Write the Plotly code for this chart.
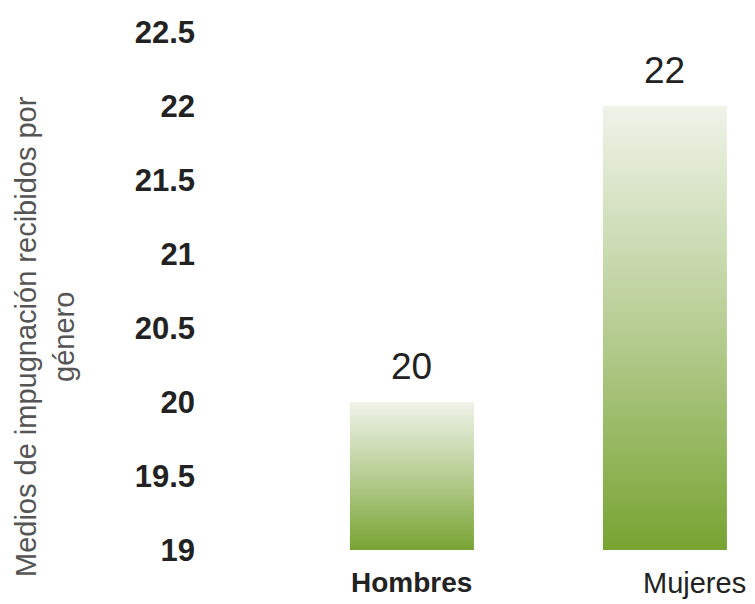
import plotly.graph_objects as go

categories = ["Hombres", "Mujeres"]
values = [20, 22]
y_min = 19
y_max = 22.5
tick_vals = [19, 19.5, 20, 20.5, 21, 21.5, 22, 22.5]
tick_text = ["19", "19.5", "20", "20.5", "21", "21.5", "22", "22.5"]
y_title = "Medios de impugnación recibidos por<br>género"

bar_half = 0.245
grad = [[0, "#78a432"], [0.5, "#b7cd93"], [1, "#eff3e9"]]

fig = go.Figure()
for i, (cat, v) in enumerate(zip(categories, values)):
    fig.add_trace(go.Scatter(
        x=[i - bar_half, i + bar_half, i + bar_half, i - bar_half, i - bar_half],
        y=[y_min, y_min, v, v, y_min],
        mode="lines", line=dict(width=0), fill="toself",
        fillcolor="#b5cc90",
        fillgradient=dict(type="vertical", colorscale=grad),
        hoverinfo="skip", showlegend=False, name=cat,
    ))
    fig.add_annotation(x=i, y=v, xref="x", yref="y", text=str(v), showarrow=False,
                       yanchor="bottom", yshift=13,
                       font=dict(family="Liberation Sans, Arial", size=37, color="#222222"))

label_shift = [0, 30]
label_weight = ["bold", "normal"]
label_size = [28, 29]
for i, cat in enumerate(categories):
    fig.add_annotation(x=i, y=0, xref="x", yref="paper", text=cat, showarrow=False,
                       yanchor="top", yshift=-15, xshift=label_shift[i],
                       font=dict(family="Liberation Sans, Arial", size=label_size[i],
                                 color="#222222", weight=label_weight[i]))

# y-axis title as a rotated annotation
fig.add_annotation(x=0, y=0.5, xref="paper", yref="paper", text=y_title, showarrow=False,
                   textangle=-90, xanchor="center", yanchor="middle",
                   xshift=-160, yshift=-46,
                   font=dict(family="Liberation Sans, Arial", size=29, color="#555555"))

fig.update_layout(
    width=755, height=604,
    margin=dict(l=205, r=0, t=32, b=54, autoexpand=False),
    plot_bgcolor="white", paper_bgcolor="white",
    xaxis=dict(range=[-0.818, 1.356], showticklabels=False, showgrid=False,
               zeroline=False, showline=False, ticks="", automargin=False),
    yaxis=dict(range=[y_min, y_max], tickvals=tick_vals, ticktext=tick_text,
               showgrid=False, zeroline=False, showline=False, ticks="",
               ticklabelstandoff=9, automargin=False,
               tickfont=dict(family="Liberation Sans, Arial", size=31, color="#222222",
                             weight="bold")),
)

fig.write_html("out.html", config={"displayModeBar": False},
               post_script="document.body.style.margin='0';")
